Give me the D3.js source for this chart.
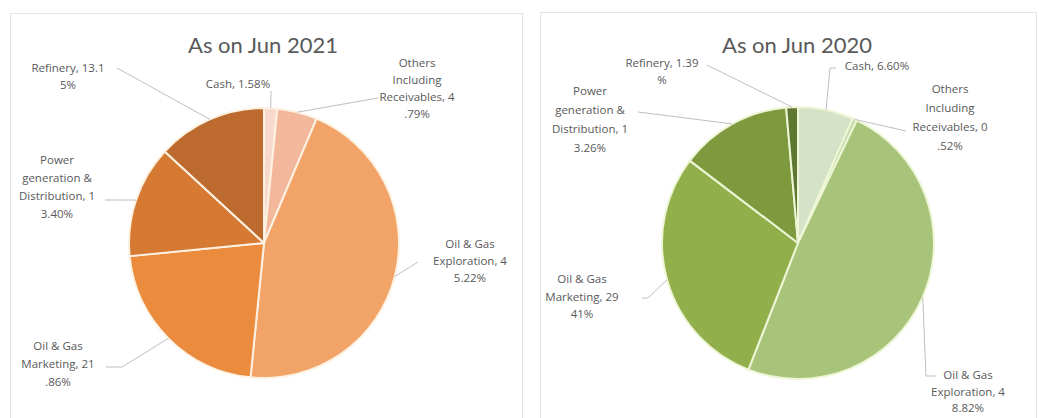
<!DOCTYPE html>
<html>
<head>
<meta charset="utf-8">
<script src="https://cdn.jsdelivr.net/npm/d3@7"></script>
<style>
  html, body { margin: 0; padding: 0; background: #ffffff; }
  svg { display: block; }
</style>
</head>
<body>
<svg id="chart" width="1039" height="418"></svg>
<script>
// ---------- data ----------
const categories = ["Cash", "Others Including Receivables", "Oil & Gas Exploration",
                    "Oil & Gas Marketing", "Power generation & Distribution", "Refinery"];
const values2021 = [1.58, 4.79, 45.22, 21.86, 13.40, 13.15];
const values2020 = [6.60, 0.52, 48.82, 29.41, 13.26, 1.39];
const titles = ["As on Jun 2021", "As on Jun 2020"];
const labels2021 = [
  ["Cash, 1.58%"],
  ["Others", "Including", "Receivables, 4", ".79%"],
  ["Oil & Gas", "Exploration, 4", "5.22%"],
  ["Oil & Gas", "Marketing, 21", ".86%"],
  ["Power", "generation &", "Distribution, 1", "3.40%"],
  ["Refinery, 13.1", "5%"]
];
const labels2020 = [
  ["Cash, 6.60%"],
  ["Others", "Including", "Receivables, 0", ".52%"],
  ["Oil & Gas", "Exploration, 4", "8.82%"],
  ["Oil & Gas", "Marketing, 29", "41%"],
  ["Power", "generation &", "Distribution, 1", "3.26%"],
  ["Refinery, 1.39", "%"]
];

// ---------- styles / layout ----------
const colors2021 = ["#f7dacb", "#f3b79c", "#f2a368", "#ea8b3d", "#d67a33", "#bd6a2e"];
const colors2020 = ["#d6e2c7", "#c4d9a6", "#a8c47b", "#91b04c", "#7f9a3e", "#5e7832"];

const panels = [
  {
    box: {x: 10, y: 13, w: 512, h: 420},
    cx: 264, cy: 243, r: 135,
    values: values2021, labels: labels2021, colors: colors2021, sep: "#fdf1e2", title: titles[0],
    titleX: 263,
    lab: [
      {x: 238, ys: [84], lead: [[271, 91]]},
      {x: 417, ys: [63, 80, 97, 114], lead: [[378, 98]]},
      {x: 470, ys: [244, 261, 278], lead: [[418, 262]]},
      {x: 58, ys: [346, 364, 382], lead: [[106, 367], [122, 367]]},
      {x: 57, ys: [160, 178, 196, 214], lead: [[105, 200]]},
      {x: 68, ys: [68, 85], lead: [[117, 68]]}
    ]
  },
  {
    box: {x: 540, y: 12, w: 496, h: 420},
    cx: 798, cy: 243, r: 136,
    values: values2020, labels: labels2020, colors: colors2020, sep: "#eef6d6", title: titles[1],
    titleX: 797,
    lab: [
      {x: 877, ys: [66], lead: [[836, 68], [830, 68]]},
      {x: 950, ys: [89, 108, 127, 146], lead: [[906, 131]]},
      {x: 968, ys: [375, 392, 408], lead: [[936, 376], [926, 376]]},
      {x: 582, ys: [279, 297, 314], lead: [[642, 298], [648, 298]]},
      {x: 590, ys: [91, 110, 129, 148], lead: [[638, 112]]},
      {x: 662, ys: [63, 80], lead: [[707, 65]]}
    ]
  }
];

const svg = d3.select("#chart");
const pie = d3.pie().sort(null).value(d => d).startAngle(0).endAngle(2 * Math.PI);

panels.forEach(p => {
  // panel frame
  svg.append("rect")
    .attr("x", p.box.x + 0.5).attr("y", p.box.y + 0.5)
    .attr("width", p.box.w).attr("height", p.box.h)
    .attr("fill", "#ffffff").attr("stroke", "#e4e4e4").attr("stroke-width", 1);

  // title
  svg.append("text")
    .attr("x", p.titleX).attr("y", 53)
    .attr("text-anchor", "middle")
    .attr("font-family", "Lato, 'Open Sans', sans-serif")
    .attr("font-size", 22)
    .attr("fill", "#595959")
    .text(p.title);

  const g = svg.append("g").attr("transform", `translate(${p.cx},${p.cy})`);
  const arcs = pie(p.values);
  const arc = d3.arc().innerRadius(0).outerRadius(p.r);
  const edge = d3.arc().innerRadius(p.r).outerRadius(p.r);

  g.selectAll("path.slice").data(arcs).enter().append("path")
    .attr("class", "slice")
    .attr("d", arc)
    .attr("fill", (d, i) => p.colors[i])
    .attr("stroke", p.sep)
    .attr("stroke-width", 2)
    .attr("stroke-linejoin", "round");

  // leader lines
  arcs.forEach((d, i) => {
    const c = edge.centroid(d);
    const pt = [p.cx + c[0], p.cy + c[1]];
    const pts = p.lab[i].lead.concat([pt]);
    svg.append("path")
      .attr("d", d3.line()(pts))
      .attr("fill", "none")
      .attr("stroke", "#bfbfbf")
      .attr("stroke-width", 1);
  });

  // labels
  p.labels.forEach((lines, i) => {
    const L = p.lab[i];
    const t = svg.append("text")
      .attr("text-anchor", "middle")
      .attr("font-family", "'Open Sans', sans-serif")
      .attr("font-size", 11.5)
      .attr("fill", "#595959");
    lines.forEach((ln, k) => {
      t.append("tspan").attr("x", L.x).attr("y", L.ys[k] + 4).text(ln);
    });
  });
});
</script>
</body>
</html>
